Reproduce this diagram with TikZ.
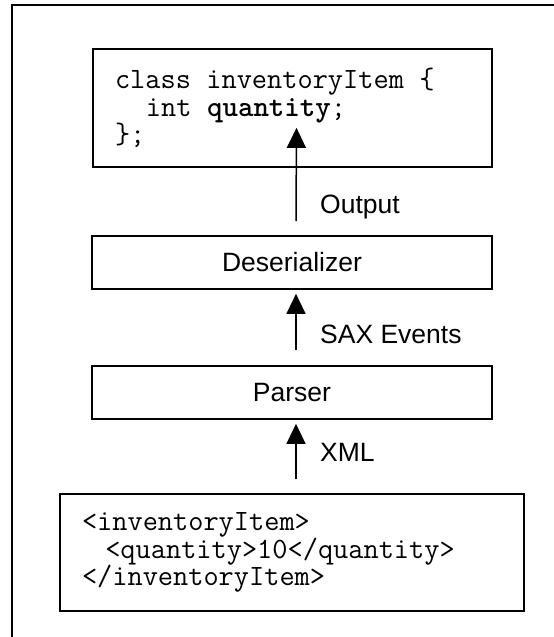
\documentclass[tikz,border=0pt]{standalone}
\usepackage{fontspec}
\setmainfont{Liberation Sans}
\usetikzlibrary{arrows.meta}
\newcommand\codesp{\hspace*{0.525em}}
\begin{document}
\begin{tikzpicture}[x=1pt,y=-1pt,
  box/.style={draw,line width=1.7pt,inner sep=0pt},
  codebox/.style={box,align=left,inner xsep=22pt,
    font={\ttfamily\fontsize{29.5}{27.5}\selectfont}},
  stagebox/.style={box,minimum width=400pt,minimum height=53pt,
    font={\fontsize{26.5}{30}\selectfont}},
  lbl/.style={anchor=base west,inner sep=0pt,font={\fontsize{26.5}{30}\selectfont}},
  arr/.style={line width=1.5pt,-{Triangle[length=20pt,width=19pt]}}]
\useasboundingbox (0,0) rectangle (554,637);
% outer frame (cropped)
\draw[line width=2pt] (12,637) -- (12,5) -- (554,5);
% boxes
\node[codebox,text width=355pt,minimum height=118pt] (cls) at (292.5,108)
  {class\codesp inventoryItem\codesp\{\\\hspace*{1.05em}int\codesp\textbf{quantity};\\\};};
\node[stagebox] (des) at (292,262.5) {Deserializer};
\node[stagebox] (par) at (292,392.5) {Parser};
\node[codebox,text width=420pt,minimum height=117pt] (xml) at (292,552.5)
  {<inventoryItem>\\\hspace*{0.79em}<quantity>10</quantity>\\</inventoryItem>};
% connectors
\draw[arr] ([xshift=4pt,yshift=14pt]xml.north) -- ([xshift=4pt,yshift=-4pt]par.south);
\draw[arr] ([xshift=4pt,yshift=15pt]par.north) -- ([xshift=4pt,yshift=-4pt]des.south);
\draw[arr] ([xshift=4pt,yshift=14pt]des.north) -- ([xshift=4pt,yshift=40pt]cls.south);
% labels
\node[lbl] (lout) at (320,213) {Output};
\node[lbl] (lsax) at (320,343) {SAX Events};
\node[lbl] (lxml) at (320,461) {XML};
\end{tikzpicture}
\end{document}
